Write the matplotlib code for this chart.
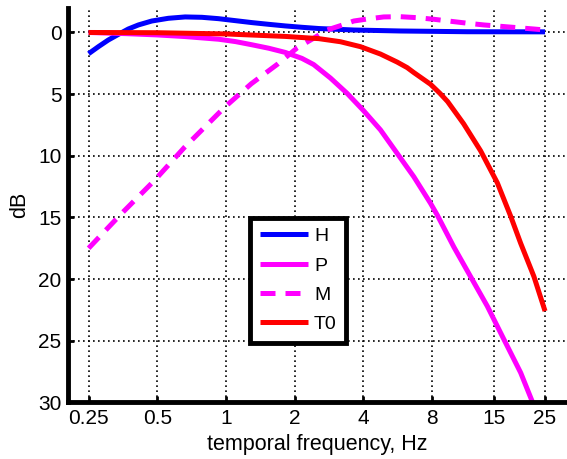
#!/usr/bin/env python3

# Libraries
import matplotlib
matplotlib.use('Agg')
from matplotlib import pyplot as plt

# Data (frequency in Hz, attenuation in dB)
FreqH = [0.25, 0.276, 0.305, 0.338, 0.373, 0.413, 0.473, 0.559, 0.662, 0.784, 0.927, 1.097,
         1.30, 1.54, 1.82, 2.15, 2.55, 3.63, 5.81, 11.4, 25.0]
GainH = [1.72, 1.15, 0.61, 0.15, -0.28, -0.61, -0.93, -1.15, -1.26, -1.23, -1.12, -0.96,
         -0.80, -0.66, -0.53, -0.42, -0.32, -0.20, -0.12, -0.06, -0.05]

FreqP = [0.25, 0.37, 0.5, 0.66, 0.93, 1.1, 1.3, 1.54, 1.82, 2.15, 2.42, 2.87, 3.39, 4.01,
         4.75, 5.62, 6.65, 7.87, 8.42, 9.96, 11.79, 13.96, 16.51, 19.55, 21.99]
GainP = [0.0, 0.1, 0.2, 0.33, 0.55, 0.74, 1.0, 1.28, 1.62, 2.1, 2.6, 3.7, 4.93, 6.35,
         7.9, 9.8, 11.7, 13.85, 14.8, 17.4, 19.8, 22.2, 24.9, 27.6, 29.95]

FreqM = [0.25, 0.348, 0.486, 0.659, 0.987, 1.29, 1.69, 2.05, 2.42, 2.77, 3.17, 3.63, 4.15,
         4.91, 5.81, 6.88, 8.14, 9.63, 11.41, 13.49, 15.97, 18.9, 22.35, 25.0]
GainM = [17.5, 14.7, 12.0, 9.3, 6.06, 4.16, 2.54, 1.25, 0.47, -0.2, -0.55, -0.93, -1.09,
         -1.26, -1.28, -1.2, -1.07, -0.91, -0.75, -0.61, -0.5, -0.39, -0.28, -0.2]

FreqT0 = [0.25, 0.5, 1.0, 1.82, 2.55, 3.17, 3.88, 4.75, 5.62, 6.22, 6.65, 7.87, 8.65, 9.35,
          10.99, 13.05, 15.45, 17.67, 19.55, 22.35, 25.0]
GainT0 = [0.0, 0.02, 0.12, 0.32, 0.5, 0.75, 1.15, 1.75, 2.4, 2.85, 3.25, 4.2, 4.93, 5.6,
          7.4, 9.6, 12.2, 14.9, 17.1, 19.8, 22.6]

XTicks = [0.25, 0.5, 1, 2, 4, 8, 15, 25]
XTickLabels = ['0.25', '0.5', '1', '2', '4', '8', '15', '25']
YTicks = [0, 5, 10, 15, 20, 25, 30]


def main():
    plt.rcParams['font.family'] = ['Liberation Sans', 'DejaVu Sans']

    fig = plt.figure(figsize=(5.67, 4.59), dpi=100)
    ax = fig.add_axes([0.1205, 0.1235, 0.8795, 0.8584])

    Lw = 3.6
    ax.plot(FreqH, GainH, color=(0, 0, 1), lw=Lw, label='H', solid_capstyle='butt', solid_joinstyle='round')
    ax.plot(FreqP, GainP, color=(1, 0, 1), lw=Lw, label='P', solid_capstyle='butt', solid_joinstyle='round')
    ax.plot(FreqM, GainM, color=(1, 0, 1), lw=Lw, ls=(0, (3, 2)), label='M', dash_capstyle='butt')
    ax.plot(FreqT0, GainT0, color=(1, 0, 0), lw=Lw, label='T0', solid_capstyle='butt', solid_joinstyle='round')

    # Axes settings
    ax.set_xscale('log')
    ax.set_xlim(0.2037, 31.2)
    ax.set_ylim(30, -1.96)
    ax.set_xticks(XTicks, XTickLabels)
    ax.minorticks_off()
    ax.set_yticks(YTicks)
    ax.tick_params(direction='in', length=4, width=2, labelsize=15, pad=5)
    ax.grid(True, color='black', lw=1.2, ls=(0, (1, 2)))
    ax.set_axisbelow(True)

    for Side in ['top', 'right']:
        ax.spines[Side].set_visible(False)
    for Side in ['left', 'bottom']:
        ax.spines[Side].set_linewidth(3.5)

    ax.set_xlabel('temporal frequency, Hz', fontsize=15.5, labelpad=4)
    ax.set_ylabel('dB', fontsize=15.5, labelpad=6)

    Leg = ax.legend(loc='upper left', bbox_to_anchor=(0.364, 0.468), borderaxespad=0,
                    fontsize=14, fancybox=False, framealpha=1, edgecolor='black',
                    handlelength=2.5, handletextpad=0.3, labelspacing=0.6, borderpad=0.5)
    Leg.get_frame().set_linewidth(3.5)

    fig.savefig('out.png', dpi=100)


if __name__ == '__main__':
    main()
